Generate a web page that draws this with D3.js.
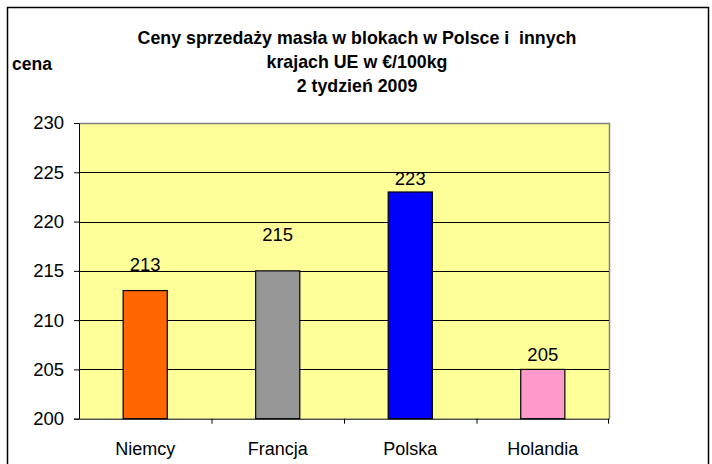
<!DOCTYPE html>
<html>
<head>
<meta charset="utf-8">
<script src="https://cdn.jsdelivr.net/npm/d3@7"></script>
<style>
  body { margin: 0; background: #fff; }
  svg { display: block; font-family: Arial, "Liberation Sans", sans-serif; }
</style>
</head>
<body>
<div id="chart"></div>
<script>
// values
const countries = ["Niemcy", "Francja", "Polska", "Holandia"];
const prices = [213, 215, 223, 205];
const barColors = ["#FF6600", "#969696", "#0000FF", "#FF99CC"];
// label lift above bar top, in price units (labels were moved by hand in the original)
const labelLift = [2.0, 3.0, 0.75, 0.85];
const yTicks = [200, 205, 210, 215, 220, 225, 230];
const titleLines = ["Ceny sprzedaży masła w blokach w Polsce i  innych", "krajach UE w €/100kg", "2 tydzień 2009"];

const width = 712, height = 464;
const margin = {top: 123, right: 103, bottom: 45, left: 79};
const visWidth = width - margin.left - margin.right;
const visHeight = height - margin.top - margin.bottom - 0.3;

const svg = d3.select("#chart")
  .append("svg")
    .attr("width", width)
    .attr("height", height);

// outer frame
svg.append("rect")
  .attr("x", 7.5)
  .attr("y", 7.5)
  .attr("width", 701)
  .attr("height", 470)
  .attr("fill", "none")
  .attr("stroke", "#000")
  .attr("stroke-width", 1.5);

// title
svg.append("g")
  .selectAll("text")
  .data(titleLines)
  .join("text")
    .attr("x", 357)
    .attr("y", (d, i) => 44 + i * 24)
    .attr("text-anchor", "middle")
    .attr("font-size", "17.8px")
    .attr("font-weight", "bold")
    .style("white-space", "pre")
    .text(d => d);

svg.append("text")
  .attr("x", 12)
  .attr("y", 70)
  .attr("font-size", "17.5px")
  .attr("font-weight", "bold")
  .text("cena");

const g = svg.append("g")
  .attr("transform", "translate(" + margin.left + "," + margin.top + ")");

const x = d3.scaleBand()
  .domain(countries)
  .range([0, visWidth])
  .paddingInner(0.667)
  .paddingOuter(0.333);

const xAxisScale = d3.scaleBand()
  .domain(countries)
  .range([0, visWidth]);

const y = d3.scaleLinear()
  .domain([200, 230])
  .range([visHeight, 0]);

// plot background
g.append("rect")
  .attr("width", visWidth)
  .attr("height", visHeight)
  .attr("fill", "#FFFF99");

g.append("path")
  .attr("d", "M0.5," + 0.5 + "H" + (visWidth + 0.5) + "V" + visHeight)
  .attr("fill", "none")
  .attr("stroke", "#808080")
  .attr("stroke-width", 1.5);

// gridlines
g.append("g")
  .selectAll("line")
  .data(yTicks.slice(1, -1))
  .join("line")
    .attr("x1", 0)
    .attr("x2", visWidth)
    .attr("y1", d => Math.round(y(d)) + 0.5)
    .attr("y2", d => Math.round(y(d)) + 0.5)
    .attr("stroke", "#000")
    .attr("stroke-width", 1);

// bars
g.append("g")
  .selectAll("rect")
  .data(prices)
  .join("rect")
    .attr("x", (d, i) => x(countries[i]))
    .attr("y", d => y(d))
    .attr("width", x.bandwidth())
    .attr("height", d => y(200) - y(d))
    .attr("fill", (d, i) => barColors[i])
    .attr("stroke", "#000")
    .attr("stroke-width", 1.2);

// value labels
g.append("g")
  .selectAll("text")
  .data(prices)
  .join("text")
    .attr("x", (d, i) => x(countries[i]) + x.bandwidth() / 2)
    .attr("y", (d, i) => y(d + labelLift[i]))
    .attr("text-anchor", "middle")
    .attr("font-size", "18.5px")
    .text(d => d);

// axes
const yAxis = g.append("g")
  .call(d3.axisLeft(y).tickValues(yTicks).tickSize(5).tickPadding(10));
yAxis.selectAll("text").attr("font-size", "18.5px").attr("fill", "#000").attr("font-family", "Arial, 'Liberation Sans', sans-serif");
yAxis.select(".domain").attr("stroke", "#000");

const xAxis = g.append("g")
  .attr("transform", "translate(0," + visHeight + ")")
  .call(d3.axisBottom(xAxisScale).tickSize(0).tickPadding(24));
xAxis.selectAll("text").attr("font-size", "18px").attr("fill", "#000").attr("font-family", "Arial, 'Liberation Sans', sans-serif");
xAxis.select(".domain").attr("stroke", "#000");

// category boundary ticks
xAxis.append("g")
  .selectAll("line")
  .data(countries.slice(1).concat(["end"]))
  .join("line")
    .attr("x1", (d, i) => d === "end" ? visWidth - 0.5 : xAxisScale(d) + 0.5)
    .attr("x2", (d, i) => d === "end" ? visWidth - 0.5 : xAxisScale(d) + 0.5)
    .attr("y1", 0)
    .attr("y2", 5)
    .attr("stroke", "#000");
</script>
</body>
</html>
